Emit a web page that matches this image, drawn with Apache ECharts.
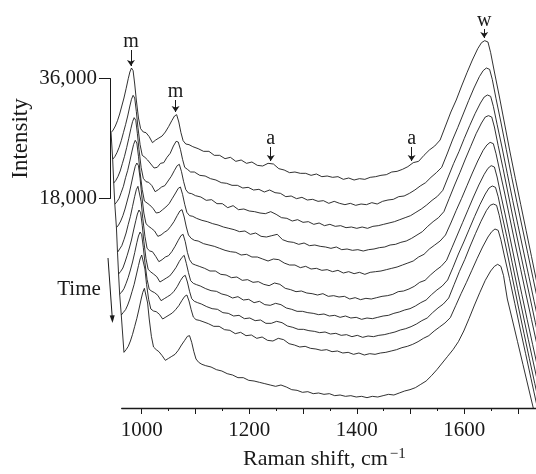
<!DOCTYPE html>
<html>
<head>
<meta charset="utf-8">
<style>
html, body { margin: 0; padding: 0; background: #fff; }
#chart { width: 536px; height: 474px; }
</style>
<script src="https://cdn.jsdelivr.net/npm/echarts@6/dist/echarts.min.js"></script>
</head>
<body>
<div id="chart"></div>
<script>
// Raman shift grid (cm-1) shared by all spectra, before the waterfall shift
const ramanShift = [
  943, 947, 951, 955, 959, 963, 967, 971, 975, 978, 981, 984, 987, 990, 994, 998,
  1003, 1008, 1014, 1020, 1026, 1032, 1038, 1044, 1050, 1056, 1061, 1065, 1069, 1073, 1077, 1082, 1088, 1095,
  1105, 1115, 1125, 1135, 1145, 1155, 1165, 1175, 1185, 1195, 1205, 1215, 1225, 1235, 1245,
  1255, 1265, 1275, 1285, 1295, 1305, 1315, 1325, 1335, 1345, 1355, 1365, 1375, 1385, 1395,
  1405, 1415, 1425, 1435, 1445, 1455, 1465, 1475, 1485, 1495, 1505, 1515, 1525, 1535, 1545,
  1555, 1565, 1575, 1585, 1595, 1605, 1615, 1625, 1632, 1638, 1644, 1649, 1656, 1665, 1675,
  1685, 1695, 1705, 1715, 1725, 1740
];

// waterfall offsets of each spectrum (earliest first)
const traceShift = [0, 3, 5, 7, 10, 12, 14, 16, 19, 24];                      // cm-1
const traceOffset = [0, 3.9, 7.65, 10.95, 14.55, 18.15, 21.3, 24.3, 27.45, 32.85]; // thousand counts

// intensities, thousands of counts
const spectra = [
  [27.9, 28.3, 28.9, 29.7, 30.7, 31.9, 33.1, 34.5, 36.0, 37.0, 37.6, 37.2, 35.2, 32.8, 30.1, 28.5, 28.0, 27.9, 27.3, 26.4, 26.8, 27.1, 27.4, 28.0, 28.8, 29.7, 30.4, 30.6, 29.5, 27.9, 26.7, 26.2, 26.1, 25.8,
   25.5, 25.1, 25.1, 24.5, 24.5, 24.0, 24.2, 23.6, 23.8, 23.3, 23.5, 23.0, 22.9, 23.3, 23.2, 22.5, 22.3, 21.9, 22.0, 21.8, 21.8, 21.5, 21.7, 21.3, 21.4, 21.2, 21.3, 20.9, 21.1, 20.8, 21.0, 20.9, 21.2, 21.3, 21.5, 21.6, 22.0, 22.1, 22.4, 22.8, 23.4, 23.6, 24.5, 25.3, 25.9,
   26.8, 28.9, 31.0, 32.8, 34.9, 36.9, 38.8, 40.5, 41.4, 41.7, 41.5, 39.9, 37.0, 33.4, 29.2, 25.0, 21.0, 17.1, 13.2, 9.3, 3.4],
  [27.8, 28.2, 28.8, 29.6, 30.6, 31.8, 33.0, 34.3, 35.8, 36.8, 37.4, 37.0, 35.0, 32.6, 30.0, 28.4, 28.1, 27.7, 27.1, 26.5, 26.6, 27.2, 27.3, 28.1, 28.7, 29.8, 30.5, 30.4, 29.3, 27.8, 26.6, 26.3, 25.9, 25.9,
   25.4, 25.3, 24.9, 24.7, 24.3, 24.2, 23.9, 23.9, 23.5, 23.6, 23.2, 23.3, 22.9, 23.2, 22.8, 22.7, 22.2, 22.3, 21.9, 22.1, 21.7, 21.8, 21.5, 21.6, 21.2, 21.5, 21.2, 21.0, 21.2, 20.9, 21.1, 21.0, 21.3, 21.1, 21.5, 21.7, 21.8, 22.2, 22.3, 22.7, 23.2, 23.8, 24.3, 25.1, 25.8,
   26.6, 28.6, 30.7, 32.6, 34.6, 36.6, 38.5, 40.2, 41.1, 41.5, 41.3, 39.8, 36.9, 33.4, 29.3, 25.2, 21.3, 17.5, 13.7, 9.9, 4.2],
  [28.0, 28.4, 29.0, 29.8, 30.9, 32.0, 33.3, 34.7, 36.2, 37.2, 37.8, 37.4, 35.4, 33.0, 30.3, 28.7, 28.2, 28.1, 27.6, 26.7, 27.0, 27.4, 27.6, 28.3, 29.0, 29.9, 30.6, 30.8, 29.7, 28.2, 27.0, 26.5, 26.4, 26.1,
   25.9, 25.4, 25.5, 24.9, 24.9, 24.3, 24.6, 24.0, 24.1, 23.8, 23.7, 23.5, 23.4, 23.7, 23.3, 22.8, 22.7, 22.3, 22.5, 22.1, 22.2, 21.8, 22.0, 21.6, 21.8, 21.5, 21.6, 21.3, 21.4, 21.2, 21.4, 21.2, 21.5, 21.6, 21.8, 22.0, 22.2, 22.5, 22.8, 23.1, 23.6, 24.1, 24.7, 25.4, 26.0,
   26.9, 28.9, 30.9, 32.7, 34.7, 36.6, 38.4, 40.0, 40.9, 41.2, 41.0, 39.5, 36.8, 33.4, 29.4, 25.4, 21.6, 17.8, 14.0, 10.2, 4.6],
  [28.1, 28.5, 29.0, 29.9, 30.8, 32.1, 33.2, 34.6, 36.1, 37.1, 37.7, 37.3, 35.3, 32.9, 30.3, 28.6, 28.3, 28.0, 27.5, 26.8, 26.9, 27.3, 27.7, 28.2, 29.0, 29.8, 30.5, 30.7, 29.6, 28.1, 26.9, 26.4, 26.3, 26.0,
   25.7, 25.5, 25.2, 25.0, 24.7, 24.5, 24.3, 24.0, 24.1, 23.6, 23.8, 23.3, 23.2, 23.4, 23.6, 22.8, 22.5, 22.4, 22.1, 22.3, 21.9, 22.0, 21.8, 21.7, 21.5, 21.7, 21.3, 21.4, 21.2, 21.3, 21.1, 21.3, 21.4, 21.6, 21.7, 22.0, 22.1, 22.4, 22.6, 23.0, 23.5, 24.0, 24.8, 25.5, 26.1,
   27.0, 29.0, 31.0, 32.9, 34.9, 36.8, 38.7, 40.3, 41.2, 41.4, 41.2, 39.7, 36.9, 33.5, 29.5, 25.5, 21.7, 17.9, 14.2, 10.4, 4.8],
  [28.2, 28.6, 29.2, 30.0, 31.0, 32.2, 33.4, 34.9, 36.4, 37.4, 37.9, 37.5, 35.6, 33.1, 30.4, 28.8, 28.4, 28.1, 27.7, 26.9, 27.1, 27.5, 27.8, 28.4, 29.1, 30.0, 30.7, 30.9, 29.8, 28.3, 27.1, 26.6, 26.3, 26.2,
   25.8, 25.6, 25.4, 25.1, 24.8, 24.6, 24.5, 24.1, 24.2, 23.8, 23.8, 23.5, 23.2, 23.5, 23.4, 22.9, 22.6, 22.6, 22.2, 22.4, 22.0, 22.1, 21.8, 21.9, 21.6, 21.8, 21.4, 21.6, 21.3, 21.5, 21.2, 21.5, 21.6, 21.7, 21.9, 22.1, 22.3, 22.6, 22.9, 23.2, 23.8, 24.2, 25.0, 25.6, 26.2,
   27.1, 28.9, 30.8, 32.6, 34.5, 36.4, 38.2, 39.8, 40.6, 41.0, 40.8, 39.3, 36.7, 33.4, 29.5, 25.6, 21.9, 18.1, 14.4, 10.7, 5.2],
  [28.1, 28.6, 29.1, 30.0, 31.0, 32.3, 33.5, 35.0, 36.5, 37.5, 38.0, 37.7, 35.7, 33.2, 30.5, 28.7, 28.3, 28.2, 27.5, 26.7, 27.0, 27.4, 27.6, 28.2, 29.0, 29.9, 30.6, 30.8, 29.7, 28.1, 27.0, 26.4, 26.2, 26.0,
   25.7, 25.3, 25.3, 24.8, 24.7, 24.3, 24.4, 23.9, 24.0, 23.6, 23.7, 23.3, 23.1, 23.5, 23.3, 22.7, 22.5, 22.2, 22.3, 22.0, 21.9, 21.7, 21.9, 21.5, 21.6, 21.4, 21.5, 21.1, 21.3, 21.0, 21.2, 21.1, 21.3, 21.5, 21.6, 21.8, 22.2, 22.3, 22.6, 23.0, 23.6, 23.9, 24.7, 25.4, 26.0,
   26.9, 28.8, 30.7, 32.6, 34.5, 36.4, 38.2, 39.8, 40.7, 41.1, 40.9, 39.4, 36.7, 33.4, 29.5, 25.6, 21.8, 18.0, 14.3, 10.6, 5.0],
  [28.0, 28.4, 28.9, 29.8, 30.8, 31.9, 33.1, 34.6, 36.0, 37.0, 37.6, 37.2, 35.3, 32.9, 30.3, 28.7, 28.3, 28.0, 27.6, 26.8, 27.1, 27.4, 27.7, 28.3, 29.0, 29.9, 30.5, 30.8, 29.6, 28.2, 27.0, 26.6, 26.4, 26.2,
   25.8, 25.5, 25.4, 25.0, 24.8, 24.4, 24.6, 24.1, 24.2, 23.7, 23.9, 23.4, 23.3, 23.6, 23.4, 22.9, 22.7, 22.4, 22.4, 22.2, 22.1, 21.9, 22.0, 21.7, 21.8, 21.5, 21.7, 21.4, 21.5, 21.2, 21.4, 21.3, 21.5, 21.7, 21.8, 22.1, 22.3, 22.6, 22.8, 23.2, 23.7, 24.1, 24.9, 25.6, 26.2,
   27.1, 29.0, 31.0, 32.8, 34.7, 36.6, 38.4, 40.0, 40.9, 41.2, 41.0, 39.6, 36.9, 33.6, 29.7, 25.8, 22.0, 18.2, 14.5, 10.8, 5.3],
  [28.0, 28.3, 28.8, 29.6, 30.5, 31.6, 32.8, 34.2, 35.7, 36.7, 37.3, 36.9, 35.0, 32.7, 30.2, 28.7, 28.4, 28.2, 27.8, 27.0, 27.3, 27.6, 27.9, 28.4, 29.1, 30.0, 30.6, 30.8, 29.8, 28.4, 27.3, 26.9, 26.7, 26.5,
   26.1, 25.8, 25.7, 25.2, 25.1, 24.7, 24.8, 24.3, 24.4, 24.0, 24.1, 23.6, 23.6, 23.9, 23.7, 23.2, 23.0, 22.7, 22.7, 22.5, 22.4, 22.2, 22.3, 22.0, 22.1, 21.8, 21.9, 21.6, 21.8, 21.5, 21.7, 21.6, 21.8, 21.9, 22.1, 22.3, 22.6, 22.8, 23.1, 23.5, 24.0, 24.4, 25.2, 25.9, 26.5,
   27.4, 29.4, 31.4, 33.2, 35.2, 37.1, 38.9, 40.5, 41.3, 41.5, 41.3, 39.8, 37.1, 33.7, 29.8, 25.9, 22.1, 18.3, 14.6, 10.9, 5.4],
  [28.0, 28.4, 28.8, 29.5, 30.4, 31.5, 32.6, 34.0, 35.4, 36.4, 37.0, 36.7, 34.9, 32.6, 30.3, 28.9, 28.6, 28.5, 28.1, 27.4, 27.7, 28.0, 28.3, 28.8, 29.4, 30.2, 30.8, 31.0, 30.1, 28.8, 27.7, 27.3, 27.2, 27.0,
   26.7, 26.3, 26.3, 25.8, 25.7, 25.2, 25.4, 24.9, 25.0, 24.5, 24.7, 24.2, 24.1, 24.5, 24.3, 23.7, 23.5, 23.2, 23.3, 23.0, 22.9, 22.7, 22.8, 22.5, 22.6, 22.3, 22.4, 22.1, 22.3, 22.0, 22.2, 22.1, 22.3, 22.4, 22.6, 22.8, 23.1, 23.3, 23.6, 24.0, 24.5, 24.9, 25.6, 26.2, 26.8,
   27.6, 29.4, 31.2, 32.9, 34.7, 36.5, 38.2, 39.7, 40.5, 40.9, 40.7, 39.3, 36.7, 33.5, 29.7, 25.9, 22.2, 18.5, 14.8, 11.2, 5.7],
  [27.8, 28.2, 28.7, 29.5, 30.5, 31.7, 32.9, 34.3, 35.8, 36.8, 37.4, 37.1, 35.2, 32.8, 30.2, 28.6, 28.2, 27.9, 27.3, 26.6, 26.9, 27.2, 27.5, 28.1, 28.9, 29.6, 30.2, 30.3, 29.3, 27.9, 26.8, 26.3, 26.0, 25.8,
   25.6, 25.2, 25.0, 24.6, 24.4, 24.0, 24.0, 23.6, 23.5, 23.3, 23.1, 22.9, 22.7, 22.9, 22.6, 22.2, 22.1, 21.8, 21.9, 21.6, 21.7, 21.5, 21.6, 21.3, 21.4, 21.2, 21.3, 21.1, 21.2, 21.0, 21.2, 21.1, 21.3, 21.5, 21.4, 21.7, 22.0, 22.2, 22.5, 23.0, 23.5, 24.3, 25.2, 26.2, 27.2,
   28.2, 29.4, 31.0, 32.9, 34.9, 36.8, 38.6, 40.0, 40.7, 41.0, 40.7, 39.3, 35.8, 32.8, 29.4, 26.0, 22.6, 19.2, 15.8, 12.4, 7.3]
];

// scale bar and axis labels
const intensityTicks = [18, 36];           // thousand counts
const shiftLabels = [1000, 1200, 1400, 1600];

// peak annotations on the first spectrum: label, Raman shift, arrow top, arrow tip
const peakMarks = [
  { text: 'm', x: 980, top: 40.3, tip: 37.9 },
  { text: 'm', x: 1063, top: 32.8, tip: 31.0 },
  { text: 'a', x: 1240, top: 25.75, tip: 23.65 },
  { text: 'a', x: 1502, top: 25.75, tip: 23.65 },
  { text: 'w', x: 1637, top: 43.45, tip: 42.1 }
];

const FONT = 'Liberation Serif';
const INK = '#1a1a1a';

const series = spectra.map((vals, i) => ({
  type: 'line',
  xAxisIndex: 0,
  yAxisIndex: 0,
  data: ramanShift.map((x, j) => [x + traceShift[i], +(vals[j] - traceOffset[i]).toFixed(2)]),
  symbol: 'none',
  clip: true,
  silent: true,
  lineStyle: { color: INK, width: 0.9 }
}));

// oblique line through the first point of every spectrum
series.push({
  type: 'line',
  xAxisIndex: 0,
  yAxisIndex: 0,
  data: spectra.map((v, i) => [ramanShift[0] + traceShift[i], +(v[0] - traceOffset[i]).toFixed(2)]),
  symbol: 'none',
  silent: true,
  lineStyle: { color: INK, width: 0.9 }
});

series[0].markLine = {
  silent: true,
  symbol: ['none', 'arrow'],
  symbolSize: 6,
  lineStyle: { color: INK, width: 1, type: 'solid' },
  label: {
    show: true,
    position: 'start',
    formatter: '{b}',
    distance: -2,
    fontFamily: FONT,
    fontSize: 20,
    color: INK
  },
  data: peakMarks.map(p => [
    { name: p.text, coord: [p.x, p.top] },
    { coord: [p.x, p.tip] }
  ])
};

const chart = echarts.init(document.getElementById('chart'), null, { renderer: 'canvas' });
chart.setOption({
  animation: false,
  backgroundColor: '#fff',
  grid: [
    { left: 104.06, top: 0, width: 440.9, height: 408, containLabel: false, outerBoundsMode: 'none' },
    { left: 141.7, top: 300, width: 376.4, height: 108, containLabel: false, outerBoundsMode: 'none' },
    { left: 121.7, top: 300, width: 414.3, height: 108, containLabel: false, outerBoundsMode: 'none' },
    { left: 110, top: 78.5, width: 10, height: 120, containLabel: false, outerBoundsMode: 'none' }
  ],
  xAxis: [
    { gridIndex: 0, type: 'value', min: 930, max: 1750, show: false },
    {
      gridIndex: 1, type: 'value', min: 1000, max: 1700, interval: 100,
      axisLine: { show: false },
      axisTick: { show: true, inside: false, length: 6, lineStyle: { color: INK, width: 1 } },
      minorTick: { show: true, splitNumber: 2, length: 3, lineStyle: { color: INK, width: 1 } },
      splitLine: { show: false },
      minorSplitLine: { show: false },
      axisLabel: {
        margin: 12,
        fontFamily: FONT,
        fontSize: 21,
        color: INK,
        formatter: v => (shiftLabels.includes(v) ? String(v) : '')
      }
    },
    {
      gridIndex: 2, type: 'value', min: 0, max: 1,
      axisLine: { show: true, lineStyle: { color: INK, width: 1.3 } },
      axisTick: { show: false },
      axisLabel: { show: false },
      splitLine: { show: false },
      name: 'Raman shift, cm{sup|\u22121}',
      nameLocation: 'middle',
      nameGap: 39,
      nameTextStyle: {
        fontFamily: FONT,
        fontSize: 22,
        color: INK,
        padding: [0, 9, 0, 0],
        rich: {
          sup: { fontFamily: FONT, fontSize: 15, color: INK, verticalAlign: 'top', padding: [0, 0, 10, 2] }
        }
      }
    },
    { gridIndex: 3, type: 'value', min: 0, max: 1, show: false }
  ],
  yAxis: [
    { gridIndex: 0, type: 'value', min: -13.4, max: 47.8, show: false },
    { gridIndex: 1, type: 'value', min: 0, max: 1, show: false },
    { gridIndex: 2, type: 'value', min: 0, max: 1, show: false },
    {
      gridIndex: 3, type: 'value', position: 'left',
      min: intensityTicks[0], max: intensityTicks[1], interval: intensityTicks[1] - intensityTicks[0],
      axisLine: { show: true, lineStyle: { color: INK, width: 1 } },
      axisTick: { show: true, inside: false, length: 11, lineStyle: { color: INK, width: 1 } },
      splitLine: { show: false },
      axisLabel: {
        margin: 13,
        fontFamily: FONT,
        fontSize: 21,
        color: INK,
        formatter: v => (v * 1000).toLocaleString('en-US')
      },
      name: 'Intensity',
      nameLocation: 'middle',
      nameRotate: 90,
      nameGap: 78,
      nameTextStyle: { fontFamily: FONT, fontSize: 23, color: INK }
    }
  ],
  graphic: [
    {
      type: 'text', x: 79, y: 289,
      style: { text: 'Time', font: '21px "Liberation Serif"', fill: INK, textAlign: 'center', textVerticalAlign: 'middle' }
    },
    { type: 'line', shape: { x1: 108, y1: 258, x2: 112.2, y2: 317 }, style: { stroke: INK, lineWidth: 1 } },
    { type: 'polygon', shape: { points: [[109.7, 315.5], [114.7, 315.2], [112.5, 323]] }, style: { fill: INK } }
  ],
  series: series
});
</script>
</body>
</html>
